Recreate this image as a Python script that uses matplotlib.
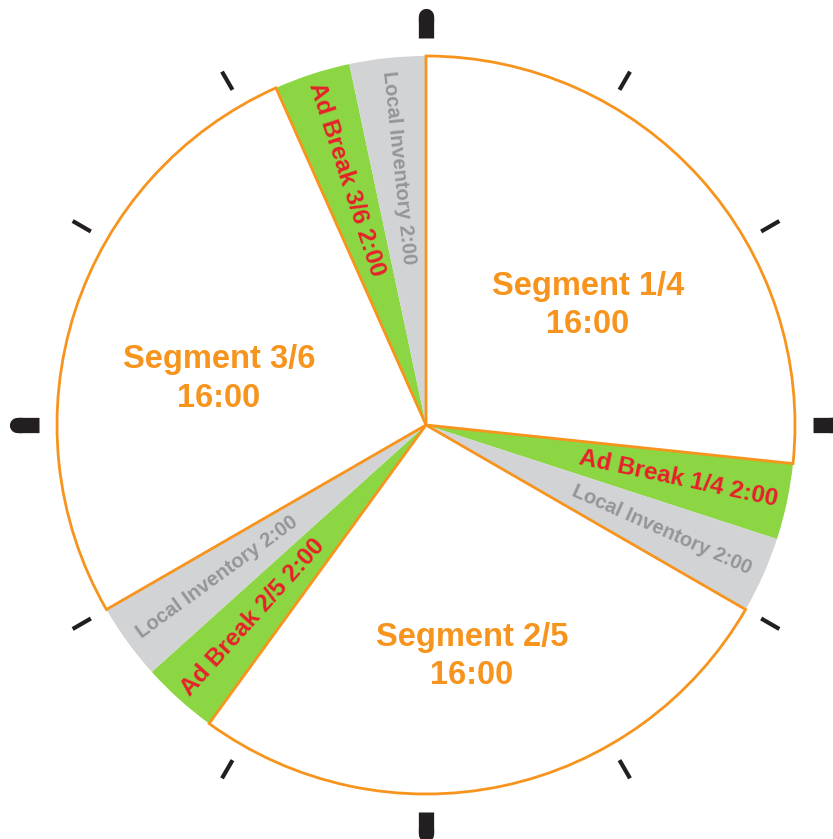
import numpy as np
import matplotlib.pyplot as plt

plt.rcParams['font.family'] = ['Liberation Sans', 'DejaVu Sans']

# Data: one hour of programming, in minutes
labels = ['Segment 1/4', 'Ad Break 1/4', 'Local Inventory',
          'Segment 2/5', 'Ad Break 2/5', 'Local Inventory',
          'Segment 3/6', 'Ad Break 3/6', 'Local Inventory']
minutes = [16, 2, 2, 16, 2, 2, 16, 2, 2]
kinds = ['segment', 'ad', 'local'] * 3

orange = '#F7941D'
green = '#8BD642'
grey = '#D1D3D4'
red = '#E8202A'
grey_text = '#939598'
tick_col = '#231F20'

fill = {'segment': 'white', 'ad': green, 'local': grey}

R = 369

fig = plt.figure(figsize=(8.33, 8.39), dpi=100)
ax = fig.add_axes([0, 0, 1, 1])

wedges, _ = ax.pie(minutes, radius=R, startangle=90, counterclock=False,
                   colors=[fill[k] for k in kinds])
for w, k in zip(wedges, kinds):
    if k == 'segment':
        w.set_edgecolor(orange)
        w.set_linewidth(2.0)
        w.set_zorder(3)
    else:
        w.set_edgecolor('none')
        w.set_zorder(2)

# labels
cum = np.cumsum([0] + minutes[:-1])
mids = 90 - (cum + np.array(minutes) / 2) * 6

# segment label placement (angle, radius fraction)
seg_pos = [(36.5, 0.545), (-78.8, 0.64), (167.5, 0.575)]
si = 0
for lab, m, k, mid in zip(labels, minutes, kinds, mids):
    if k == 'segment':
        a, rf = seg_pos[si]
        si += 1
        x = rf * R * np.cos(np.radians(a))
        y = rf * R * np.sin(np.radians(a))
        ax.text(x, y, f'{lab}\n{m}:00', ha='center', va='center',
                fontsize=23.5, fontweight='bold', color=orange,
                linespacing=1.3, zorder=5)
    else:
        rot = mid if np.cos(np.radians(mid)) > 0 else mid + 180
        rot = (rot + 180) % 360 - 180
        x = 0.70 * R * np.cos(np.radians(mid))
        y = 0.70 * R * np.sin(np.radians(mid))
        if k == 'ad':
            ax.text(x, y, f'{lab} {m}:00', ha='center', va='center',
                    rotation=rot, rotation_mode='anchor', fontsize=17.5,
                    fontweight='bold', color=red, zorder=5)
        else:
            ax.text(x, y, f'{lab} {m}:00', ha='center', va='center',
                    rotation=rot, rotation_mode='anchor', fontsize=14.5,
                    fontweight='bold', color=grey_text, zorder=5)

# clock ticks
for i in range(12):
    ang = np.radians(90 - 30 * i)
    c, s = np.cos(ang), np.sin(ang)
    if i % 3 == 0:
        ax.plot([387 * c, 408 * c], [387 * s, 408 * s], color=tick_col,
                lw=11, solid_capstyle='butt')
        ax.plot([404 * c, 409 * c], [404 * s, 409 * s], color=tick_col,
                lw=11, solid_capstyle='round')
    else:
        ax.plot([387 * c, 408 * c], [387 * s, 408 * s], color=tick_col,
                lw=3, solid_capstyle='butt')

ax.set_xlim(-426, 407)
ax.set_ylim(-414, 425)
ax.set_aspect('equal')
ax.axis('off')

plt.savefig('out.png', dpi=100)
